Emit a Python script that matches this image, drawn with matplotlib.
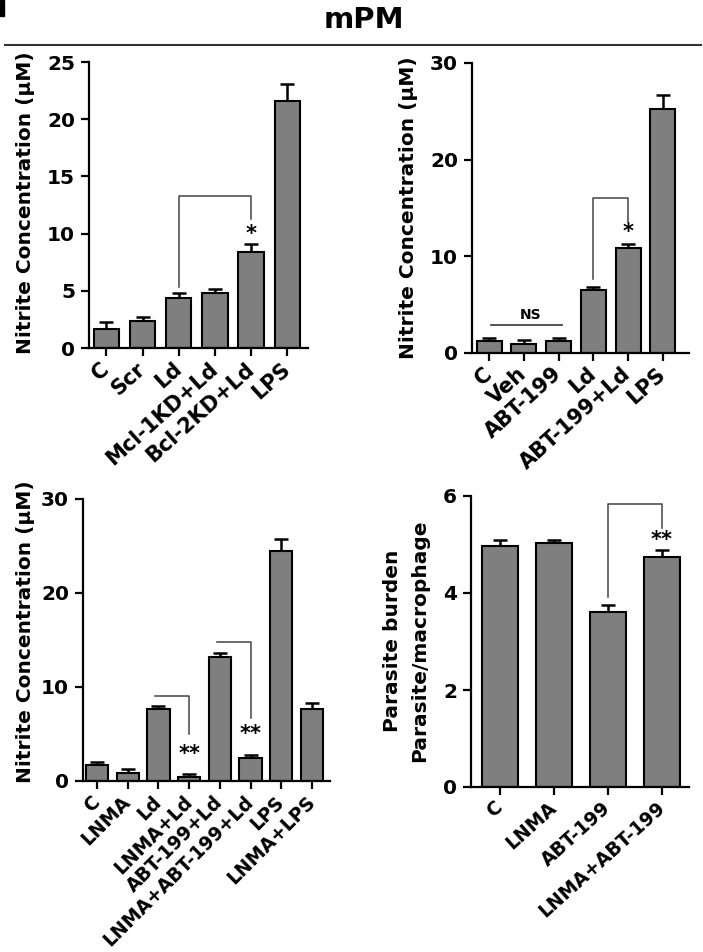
import numpy as np
import matplotlib
matplotlib.use('Agg')
import matplotlib.pyplot as plt
from matplotlib.lines import Line2D
from matplotlib.patches import Rectangle

plt.rcParams['font.family'] = ['DejaVu Sans']
plt.rcParams['font.weight'] = 'bold'
plt.rcParams['axes.labelweight'] = 'bold'

# panel 1: Mcl-1 / Bcl-2 knockdown
labels_a = ['C', 'Scr', 'Ld', 'Mcl-1KD+Ld', 'Bcl-2KD+Ld', 'LPS']
mean_a = [1.65, 2.4, 4.4, 4.8, 8.4, 21.6]
upper_a = [2.3, 2.75, 4.8, 5.2, 9.05, 23.1]

# panel 2: ABT-199
labels_b = ['C', 'Veh', 'ABT-199', 'Ld', 'ABT-199+Ld', 'LPS']
mean_b = [1.2, 0.9, 1.2, 6.5, 10.9, 25.2]
upper_b = [1.6, 1.3, 1.6, 6.8, 11.3, 26.7]

# panel 3: LNMA
labels_c = ['C', 'LNMA', 'Ld', 'LNMA+Ld', 'ABT-199+Ld', 'LNMA+ABT-199+Ld', 'LPS', 'LNMA+LPS']
mean_c = [1.7, 0.9, 7.7, 0.45, 13.2, 2.45, 24.5, 7.7]
upper_c = [2.0, 1.3, 8.0, 0.75, 13.65, 2.8, 25.7, 8.35]

# panel 4: parasite burden
labels_d = ['C', 'LNMA', 'ABT-199', 'LNMA+ABT-199']
mean_d = [4.97, 5.04, 3.6, 4.74]
upper_d = [5.09, 5.09, 3.75, 4.89]

W, H = 703, 952
fig = plt.figure(figsize=(W / 100, H / 100), dpi=100)


def rect(left, right, top, bottom):
    return [left / W, 1 - bottom / H, (right - left) / W, (bottom - top) / H]


def bar_panel(pos, labels, means, uppers, ymax, yticks, xlim, width, rot=45, xfs=14):
    ax = fig.add_axes(pos)
    x = np.arange(len(labels))
    means = np.array(means)
    err = np.array(uppers) - means
    ax.errorbar(x, means, yerr=[np.zeros_like(err), err], fmt='none',
                ecolor='black', elinewidth=1.8, capsize=5, capthick=1.8, zorder=1)
    ax.bar(x, means, width, color='#7f7f7f', edgecolor='black', linewidth=1.5, zorder=2)
    ax.set_xlim(*xlim)
    ax.set_ylim(0, ymax)
    ax.set_yticks(yticks)
    ax.set_xticks(x)
    ax.set_xticklabels(labels, rotation=rot, ha='right', va='center',
                       rotation_mode='anchor', fontsize=xfs)
    for s in ['top', 'right']:
        ax.spines[s].set_visible(False)
    for s in ['left', 'bottom']:
        ax.spines[s].set_linewidth(1.6)
    ax.tick_params(direction='out', length=6, width=1.6, pad=4)
    ax.tick_params(axis='y', labelsize=14.5)
    ax.tick_params(axis='x', pad=7)
    ax.patch.set_visible(False)
    return ax


def bracket(ax, x1, x2, top, y1, y2):
    xs, ys = [], []
    if y1 is not None:
        xs.append(x1); ys.append(y1)
    xs += [x1, x2, x2]
    ys += [top, top, y2]
    ax.plot(xs, ys, color='#444444', lw=1.1, zorder=3)


# top left
ax1 = bar_panel(rect(89, 308, 62, 348), labels_a, mean_a, upper_a, 25,
                [0, 5, 10, 15, 20, 25], (-0.48, 5.57), 0.7, rot=42, xfs=15)
bracket(ax1, 2, 4, 13.3, 5.35, 11.3)
ax1.text(4, 10.0, '*', ha='center', va='center', fontsize=15)

# top right
ax2 = bar_panel(rect(472, 689, 63, 353), labels_b, mean_b, upper_b, 30,
                [0, 10, 20, 30], (-0.49, 5.75), 0.72, rot=42, xfs=15)
bracket(ax2, 3, 4, 16.0, 7.7, 13.6)
ax2.text(4, 12.5, '*', ha='center', va='center', fontsize=15)
ax2.plot([0.05, 2.1], [2.9, 2.9], color='#444444', lw=1.3, zorder=3)
ax2.text(1.2, 3.2, 'NS', ha='center', va='bottom', fontsize=10)

# bottom left
ax3 = bar_panel(rect(83, 330, 499, 781), labels_c, mean_c, upper_c, 30,
                [0, 10, 20, 30], (-0.46, 7.59), 0.72, rot=45, xfs=13.5)
bracket(ax3, 1.9, 3.0, 9.0, None, 5.0)
ax3.text(3, 2.9, '**', ha='center', va='center', fontsize=15)
bracket(ax3, 3.9, 5.0, 14.8, None, 6.65)
ax3.text(5, 5.0, '**', ha='center', va='center', fontsize=15)

# bottom right
ax4 = bar_panel(rect(471, 689, 496, 787), labels_d, mean_d, upper_d, 6,
                [0, 2, 4, 6], (-0.54, 3.5), 0.68, rot=42, xfs=13.5)
bracket(ax4, 2, 3, 5.83, 3.92, 5.33)
ax4.text(3, 5.1, '**', ha='center', va='center', fontsize=15)

# y labels
ylab = 'Nitrite Concentration (\u03bcM)'
fig.text(26 / W, 1 - 203 / H, ylab, rotation=90, ha='center', va='center', fontsize=14.5)
fig.text(408 / W, 1 - 208 / H, ylab, rotation=90, ha='center', va='center', fontsize=14.5)
fig.text(26 / W, 1 - 632 / H, ylab, rotation=90, ha='center', va='center', fontsize=14.5)
fig.text(406 / W, 1 - 641 / H, 'Parasite burden\nParasite/macrophage', rotation=90,
         ha='center', va='center', fontsize=14.5, linespacing=1.5, multialignment='center')

# header
fig.text(364 / W, 1 - 20 / H, 'mPM', ha='center', va='center', fontsize=21)
fig.add_artist(Line2D([5 / W, 701 / W], [1 - 45 / H, 1 - 45 / H], color='#333333', lw=1.5))
fig.add_artist(Rectangle((0, 1 - 16 / H), 4 / W, 16 / H, color='black', transform=fig.transFigure))

fig.savefig('out.png', dpi=100)
